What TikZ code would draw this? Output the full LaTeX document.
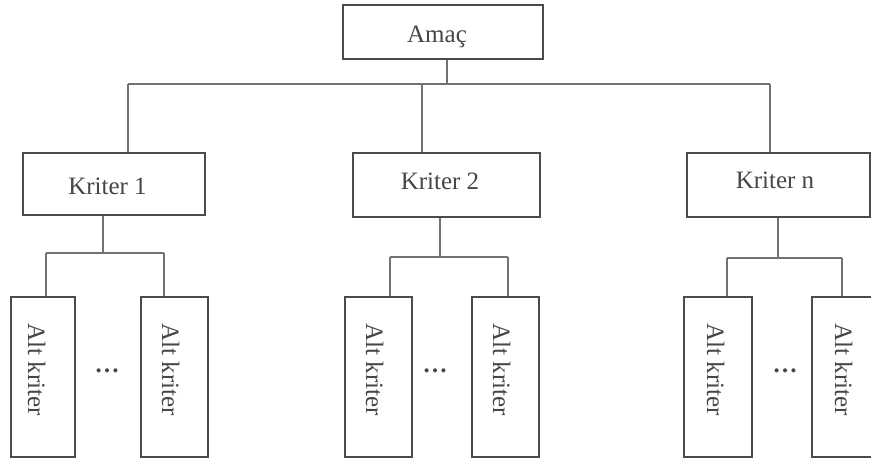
\documentclass[tikz,border=0pt]{standalone}
\usepackage{fontspec}
\setmainfont{Liberation Serif}
\definecolor{boxc}{RGB}{75,75,75}
\definecolor{linec}{RGB}{115,115,115}
\definecolor{txtc}{RGB}{70,70,70}
\begin{document}
\begin{tikzpicture}[x=1pt,y=-1pt,
  box/.style={draw=boxc,line width=2.2pt,rectangle,inner sep=0pt,fill=white},
  lab/.style={text=txtc,font=\fontsize{25}{30}\selectfont,inner sep=0pt,anchor=base},
  vlab/.style={lab,rotate=-90},
  dots/.style={lab,font=\fontsize{25}{30}\selectfont\bfseries},
  conn/.style={draw=linec,line width=1.3pt}]
\useasboundingbox (0,0) rectangle (871,458);
% boxes
\node[box,minimum width=200pt,minimum height=54pt] (amac) at (443,32) {};
\node[box,minimum width=182pt,minimum height=62pt] (k1) at (114,184) {};
\node[box,minimum width=187pt,minimum height=64pt] (k2) at (446.5,185) {};
\node[box,minimum width=183pt,minimum height=64pt] (kn) at (778.5,185) {};
\foreach \n/\cx/\w in {a11/43/64,a12/174.5/67,a21/378.5/67,a22/505.5/67,an1/718/68,an2/845/66}
  \node[box,minimum width=\w pt,minimum height=160pt] (\n) at (\cx,377) {};
% labels
\node[lab] (tamac) at (437,42) {Amaç};
\node[lab] (tk1) at (107.5,194) {Kriter 1};
\node[lab] (tk2) at (440,189) {Kriter 2};
\node[lab] (tkn) at (775,188) {Kriter n};
\foreach \n/\bx in {ta11/28,ta12/162,ta21/366,ta22/493,tan1/707,tan2/835}
  \node[vlab] (\n) at (\bx,369.5) {Alt kriter};
\node[dots] (d1) at (107,372) {…};
\node[dots] (d2) at (435,372) {…};
\node[dots] (dn) at (785,372) {…};
% top level bus
\coordinate (bt) at (447,84);
\coordinate (btl) at (128,84);
\coordinate (btr) at (770,84);
\draw[conn] (amac.south -| bt) -- (bt);
\draw[conn] (btl) -- (btr);
\draw[conn] (btl) -- (k1.north -| btl);
\draw[conn] (422,84) -- (k2.north -| 422,0);
\draw[conn] (btr) -- (kn.north -| btr);
% kriter 1
\coordinate (b1) at (103,253);
\draw[conn] (k1.south -| b1) -- (b1);
\draw[conn] (46,253) -- (164,253);
\draw[conn] (46,253) -- (a11.north -| 46,0);
\draw[conn] (164,253) -- (a12.north -| 164,0);
% kriter 2
\coordinate (b2) at (440,257);
\draw[conn] (k2.south -| b2) -- (b2);
\draw[conn] (390,257) -- (508,257);
\draw[conn] (390,257) -- (a21.north -| 390,0);
\draw[conn] (508,257) -- (a22.north -| 508,0);
% kriter n
\coordinate (bn) at (778,258);
\draw[conn] (kn.south -| bn) -- (bn);
\draw[conn] (727,258) -- (842,258);
\draw[conn] (727,258) -- (an1.north -| 727,0);
\draw[conn] (842,258) -- (an2.north -| 842,0);
\end{tikzpicture}
\end{document}
